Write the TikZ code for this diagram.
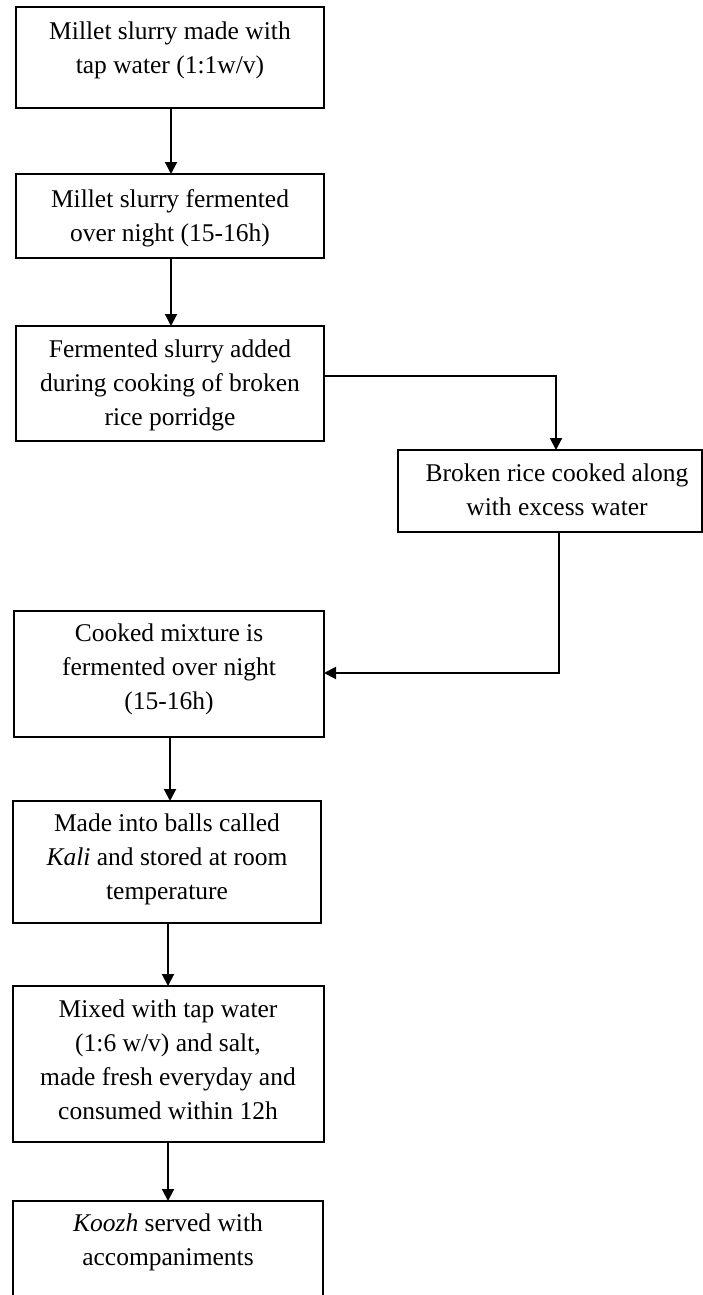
\documentclass[tikz,border=0pt]{standalone}
\usepackage{fontspec}
\setmainfont{Liberation Serif}
\usetikzlibrary{arrows.meta}
\begin{document}
\begin{tikzpicture}[x=1pt,y=-1pt,
  boxline/.style={draw=black,line width=2pt},
  txt/.style={anchor=north,align=center,inner sep=0pt,font=\fontsize{25.5}{34}\selectfont,
    execute at begin node=\rule{0pt}{20pt}},
  arr/.style={line width=2pt,-{Triangle[width=12pt,length=12pt]}}]
\useasboundingbox (0,0) rectangle (703,1295);
\path[clip] (0,0) rectangle (703,1295);
% boxes
\draw[boxline] (16,7) rectangle (324,108); \coordinate (b1s) at (171,108);
\node[txt] (t1) at (170,22) {Millet slurry made with\\tap water (1:1w/v)};
\draw[boxline] (16,174) rectangle (324,258);
\coordinate (b2n) at (171,174); \coordinate (b2s) at (171,258);
\node[txt] (t2) at (170,189) {Millet slurry fermented\\over night (15-16h)};
\draw[boxline] (16,326) rectangle (324,441);
\coordinate (b3n) at (171,326); \coordinate (b3e) at (324,376);
\node[txt] (t3) at (170,340) {Fermented slurry added\\during cooking of broken\\rice porridge};
\draw[boxline] (398,450) rectangle (702,532);
\coordinate (b4n) at (556,450); \coordinate (b4s) at (559,532);
\node[txt] (t4) at (557,464) {Broken rice cooked along\\with excess water};
\draw[boxline] (14,611) rectangle (324,737);
\coordinate (b5e) at (324,673); \coordinate (b5s) at (170,737);
\node[txt] (t5) at (169,624) {Cooked mixture is\\fermented over night\\(15-16h)};
\draw[boxline] (13,801) rectangle (321,923);
\coordinate (b6n) at (170,801); \coordinate (b6s) at (168,923);
\node[txt] (t6) at (167,814) {Made into balls called\\\textit{Kali} and stored at room\\temperature};
\draw[boxline] (13,986) rectangle (324,1142);
\coordinate (b7n) at (168,986); \coordinate (b7s) at (168,1142);
\node[txt] (t7) at (168,1000) {Mixed with tap water\\(1:6 w/v) and salt,\\made fresh everyday and\\consumed within 12h};
\draw[boxline] (13,1201) rectangle (323,1320);
\coordinate (b8n) at (168,1201);
\node[txt] (t8) at (168,1214) {\textit{Koozh} served with\\accompaniments};
% connectors
\draw[arr] (b1s) -- (b2n);
\draw[arr] (b2s) -- (b3n);
\draw[arr] (b3e) -| (b4n);
\draw[arr] (b4s) |- (b5e);
\draw[arr] (b5s) -- (b6n);
\draw[arr] (b6s) -- (b7n);
\draw[arr] (b7s) -- (b8n);
\end{tikzpicture}
\end{document}
